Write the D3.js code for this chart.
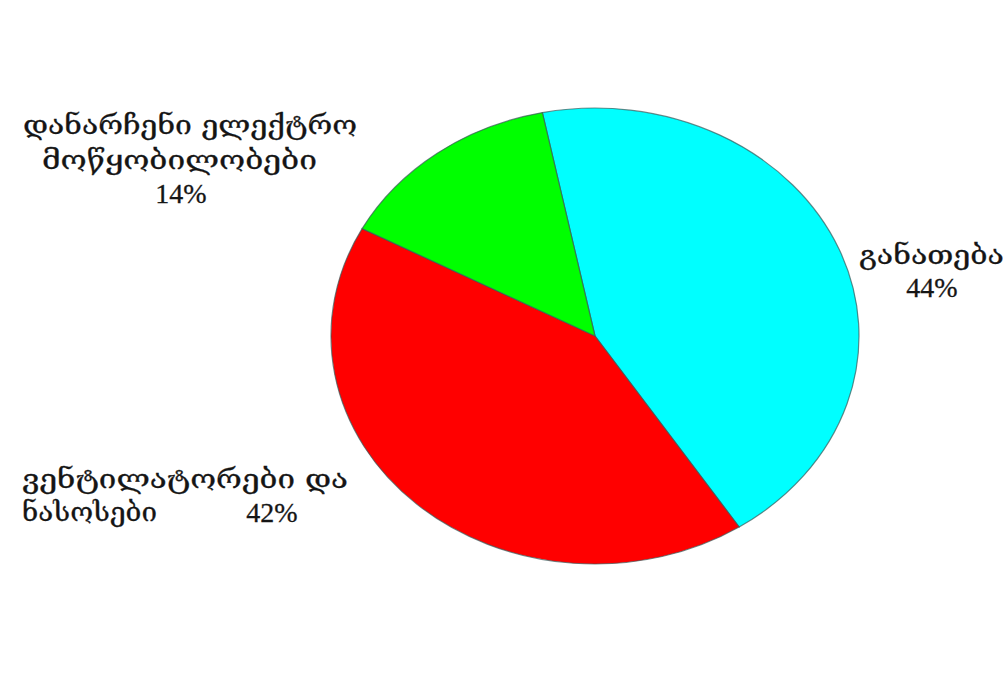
<!DOCTYPE html>
<html>
<head>
<meta charset="utf-8">
<script src="https://cdn.jsdelivr.net/npm/d3@7"></script>
<style>
  html, body { margin: 0; padding: 0; background: #ffffff; }
  svg { display: block; }
</style>
</head>
<body>
<svg id="chart" width="1008" height="684"></svg>
<script>
// Electricity consumption shares
const categories = ["განათება", "ვენტილატორები და ნასოსები", "დანარჩენი ელექტრო მოწყობილობები"];
const shares = [44, 42, 14];
const sliceColors = ["#00ffff", "#ff0000", "#00ff00"];
const percentLabels = ["44%", "42%", "14%"];

const svg = d3.select("#chart");

// Ellipse geometry: the pie is stretched horizontally
const cx = 595, cy = 336, rx = 264, ry = 228;
const startDeg = -11.5;

const pie = d3.pie()
  .sort(null)
  .value(d => d)
  .startAngle(startDeg * Math.PI / 180)
  .endAngle(startDeg * Math.PI / 180 + 2 * Math.PI);

const arc = d3.arc().innerRadius(0).outerRadius(ry);

const g = svg.append("g")
  .attr("transform", `translate(${cx},${cy}) scale(${rx / ry},1)`);

g.selectAll("path")
  .data(pie(shares))
  .join("path")
  .attr("d", arc)
  .attr("fill", (d, i) => sliceColors[i])
  .attr("stroke", "#3a5a5a")
  .attr("stroke-opacity", 0.7)
  .attr("stroke-width", 1.2)
  .attr("vector-effect", "non-scaling-stroke");

// Labels
const geoFont = "'DejaVu Serif', 'DejaVu Sans', serif";
const numFont = "'Liberation Serif', 'Times New Roman', serif";
const ink = "#151515";

function addText(str, x, y, font, size, len, anchor) {
  const t = svg.append("text")
    .attr("x", x).attr("y", y)
    .attr("font-family", font)
    .attr("font-size", size)
    .attr("fill", ink)
    .attr("stroke", ink)
    .attr("stroke-width", 0.3)
    .attr("text-anchor", anchor || "start")
    .text(str);
  if (len) t.attr("textLength", len).attr("lengthAdjust", "spacingAndGlyphs");
  return t;
}

const gs = 27;  // Georgian label size
const ns = 28;  // percentage size

// განათება 44%
addText("განათება", 859, 264, geoFont, gs, 145);
addText(percentLabels[0], 932, 297, numFont, ns, null, "middle");

// ვენტილატორები და / ნასოსები 42%
addText("ვენტილატორები  და", 22, 488, geoFont, gs, 326);
addText("ნასოსები", 22, 521, geoFont, gs, 135);
addText(percentLabels[1], 272, 522, numFont, ns, null, "middle");

// დანარჩენი ელექტრო / მოწყობილობები / 14%
addText("დანარჩენი  ელექტრო", 23, 134, geoFont, gs, 334);
addText("მოწყობილობები", 42, 169, geoFont, gs, 275);
addText(percentLabels[2], 181, 203, numFont, ns, null, "middle");
</script>
</body>
</html>
